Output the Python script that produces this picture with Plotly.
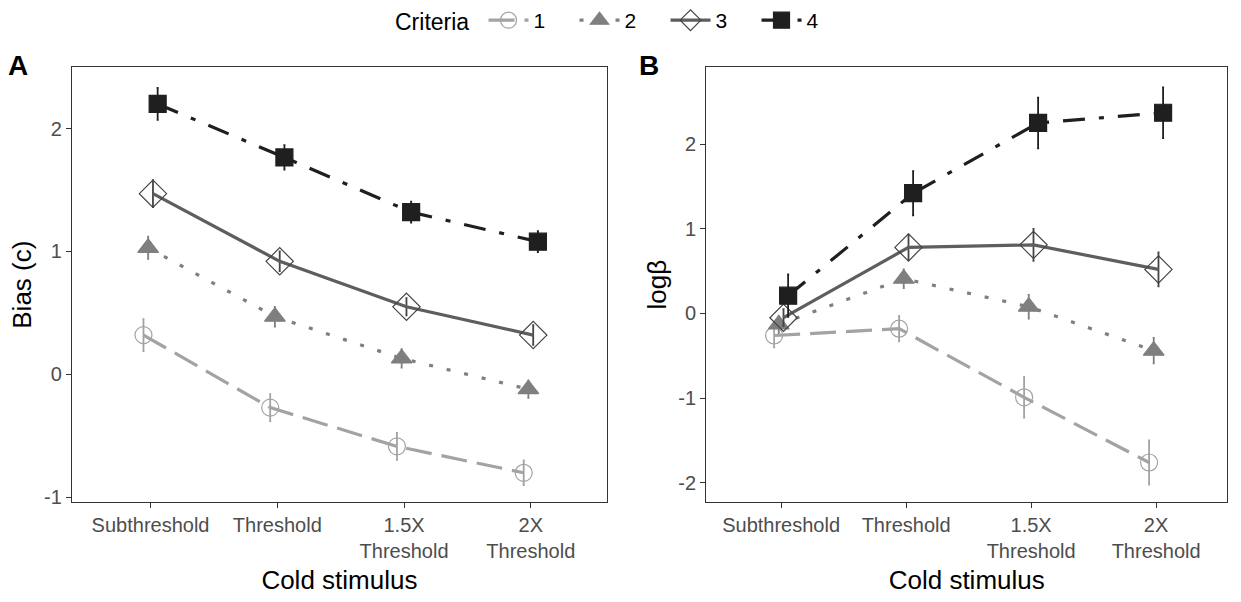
import plotly.graph_objects as go

categories = ["Subthreshold", "Threshold", "1.5X<br>Threshold", "2X<br>Threshold"]
criteria = ["1", "2", "3", "4"]
ytick_a = [-1, 0, 1, 2]
ytick_b = [-2, -1, 0, 1, 2]

bias_vals = {
    "1": [0.32, -0.27, -0.585, -0.80],
    "2": [1.03, 0.47, 0.13, -0.12],
    "3": [1.47, 0.92, 0.55, 0.32],
    "4": [2.20, 1.765, 1.32, 1.08],
}
bias_err = {
    "1": [0.13, 0.11, 0.11, 0.10],
    "2": [0.09, 0.08, 0.075, 0.07],
    "3": [0.11, 0.08, 0.07, 0.08],
    "4": [0.13, 0.10, 0.085, 0.085],
}
logb_vals = {
    "1": [-0.26, -0.18, -0.99, -1.76],
    "2": [-0.13, 0.41, 0.08, -0.44],
    "3": [-0.05, 0.78, 0.81, 0.52],
    "4": [0.21, 1.42, 2.25, 2.37],
}
logb_err = {
    "1": [0.14, 0.15, 0.24, 0.26],
    "2": [0.10, 0.11, 0.14, 0.15],
    "3": [0.10, 0.15, 0.19, 0.20],
    "4": [0.25, 0.26, 0.30, 0.30],
}

dodge = {"1": -0.056, "2": -0.019, "3": 0.019, "4": 0.056}
colors = {"1": "#a3a3a3", "2": "#7f7f7f", "3": "#5e5e5e", "4": "#1f1f1f"}
marker_colors = {"1": "#a3a3a3", "2": "#7f7f7f", "3": "#444444", "4": "#1f1f1f"}
dashes = {"1": "26px,10px", "2": "4px,14px", "3": "solid", "4": "22px,14px,5px,14px"}
symbols = {"1": "circle-open", "2": "triangle-up", "3": "diamond-open", "4": "square"}
sizes = {"1": 17, "2": 18, "3": 21, "4": 17}

FONT = "Liberation Sans, Arial"

fig = go.Figure()
for panel, (vals, errs, xa, ya) in enumerate([(bias_vals, bias_err, "x", "y"), (logb_vals, logb_err, "x2", "y2")]):
    for c in criteria:
        xs = [i + dodge[c] for i in range(len(categories))]
        fig.add_trace(go.Scatter(
            x=xs, y=vals[c], xaxis=xa, yaxis=ya,
            mode="lines+markers", name=c, legendgroup=c, showlegend=(panel == 0),
            line=dict(color=colors[c], width=3.2, dash=dashes[c]),
            marker=dict(symbol=symbols[c], size=sizes[c], color=marker_colors[c],
                        line=dict(width=1.2, color=marker_colors[c])),
            error_y=dict(type="data", array=errs[c], visible=True, color=marker_colors[c],
                         thickness=1.8, width=1),
        ))

axis_common = dict(showgrid=False, zeroline=False, showline=True, mirror=True,
                   linecolor="#333333", linewidth=1.2, ticks="outside", ticklen=5,
                   tickcolor="#333333", tickfont=dict(family=FONT, size=20, color="#4d4d4d"))
title_font = dict(family=FONT, size=26, color="black")

fig.update_layout(
    width=1241, height=602,
    margin=dict(l=0, r=0, t=0, b=0),
    plot_bgcolor="white", paper_bgcolor="white",
    font=dict(family=FONT),
    xaxis=dict(domain=[0.058, 0.489], range=[-0.62, 3.6], tickvals=[0, 1, 2, 3], ticktext=categories,
               title=dict(text="Cold stimulus", font=title_font, standoff=9), anchor="y", **axis_common),
    yaxis=dict(domain=[0.158, 0.892], range=[-1.04, 2.5], tickvals=ytick_a,
               ticktext=[str(v) for v in ytick_a],
               title=dict(text="Bias (c)", font=title_font, standoff=4), anchor="x", **axis_common),
    xaxis2=dict(domain=[0.569, 0.989], range=[-0.6, 3.57], tickvals=[0, 1, 2, 3], ticktext=categories,
                title=dict(text="Cold stimulus", font=title_font, standoff=9), anchor="y2", **axis_common),
    yaxis2=dict(domain=[0.158, 0.892], range=[-2.23, 2.91], tickvals=ytick_b,
                ticktext=[str(v) for v in ytick_b],
                title=dict(text="logβ", font=title_font, standoff=4), anchor="x2", **axis_common),
    legend=dict(orientation="h", x=0.5, xanchor="center", y=1.005, yanchor="top",
                title=dict(text="Criteria ", font=dict(family=FONT, size=23, color="black")),
                font=dict(family=FONT, size=21, color="black"), itemwidth=40,
                entrywidth=36, entrywidthmode="pixels"),
    annotations=[
        dict(text="<b>A</b>", x=0.005, y=0.895, xref="paper", yref="paper", showarrow=False,
             xanchor="left", yanchor="middle", font=dict(family=FONT, size=28, color="black")),
        dict(text="<b>B</b>", x=0.513, y=0.895, xref="paper", yref="paper", showarrow=False,
             xanchor="left", yanchor="middle", font=dict(family=FONT, size=28, color="black")),
    ],
)

fig.write_html("out.html")
